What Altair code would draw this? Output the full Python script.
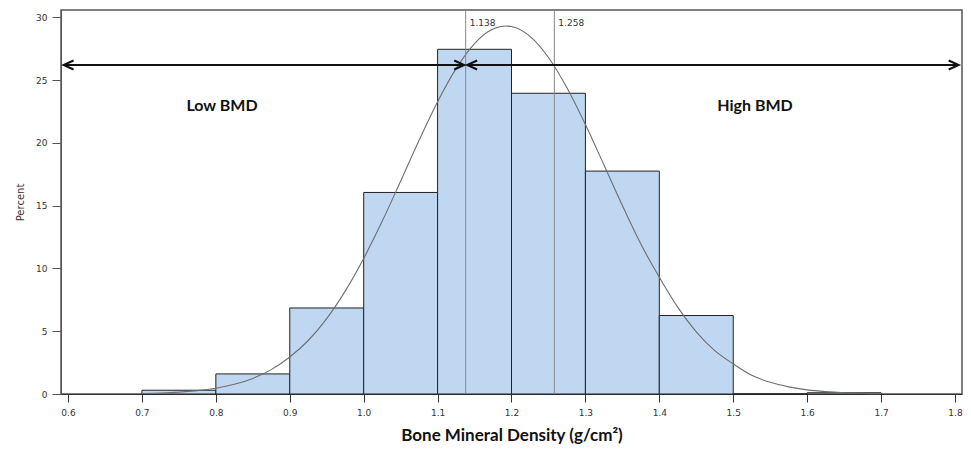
import altair as alt
import pandas as pd

# Histogram bins (lower edge, upper edge, percent)
bin_lo = [0.7, 0.8, 0.9, 1.0, 1.1, 1.2, 1.3, 1.4, 1.5, 1.6]
bin_hi = [0.8, 0.9, 1.0, 1.1, 1.2, 1.3, 1.4, 1.5, 1.6, 1.7]
pct = [0.3, 1.6, 6.85, 16.05, 27.45, 23.95, 17.75, 6.25, 0.0, 0.1]

# Fitted normal curve
curve_x = [0.70, 0.725, 0.75, 0.775, 0.80, 0.825, 0.85, 0.875, 0.90, 0.925, 0.95, 0.975,
           1.00, 1.025, 1.05, 1.075, 1.10, 1.125, 1.15, 1.175, 1.1925, 1.20, 1.225, 1.25,
           1.275, 1.30, 1.325, 1.35, 1.375, 1.40, 1.425, 1.45, 1.475, 1.50, 1.525, 1.55,
           1.575, 1.60, 1.625, 1.65, 1.675, 1.70]
curve_y = [0.04, 0.08, 0.15, 0.27, 0.46, 0.77, 1.24, 1.94, 2.95, 4.26, 6.0, 8.19,
           10.79, 13.75, 16.95, 20.2, 23.27, 25.91, 27.91, 29.06, 29.3, 29.26, 28.48, 26.8,
           24.39, 21.46, 18.25, 15.01, 11.94, 9.3, 6.9, 4.95, 3.45, 2.4, 1.49, 0.93,
           0.57, 0.33, 0.19, 0.1, 0.05, 0.03]

# Cut points
cuts = [1.138, 1.258]
cut_labels = ["1.138", "1.258"]

# Arrows
arrow_y = 26.2
arrow_start = [0.594, 1.140]
arrow_end = [1.136, 1.805]

# Group labels
group_labels = ["Low BMD", "High BMD"]
group_x = [0.8083, 1.5295]
group_y = [22.9, 22.9]

x_ticks = [0.6, 0.7, 0.8, 0.9, 1.0, 1.1, 1.2, 1.3, 1.4, 1.5, 1.6, 1.7, 1.8]
y_ticks = [0, 5, 10, 15, 20, 25, 30]

bars_df = pd.DataFrame({"lo": bin_lo, "hi": bin_hi, "pct": pct})
curve_df = pd.DataFrame({"x": curve_x, "y": curve_y})
cut_df = pd.DataFrame({"x": cuts, "label": cut_labels})
arrow_df = pd.DataFrame({"x": arrow_start, "x2": arrow_end, "y": [arrow_y, arrow_y]})
heads_df = pd.DataFrame({
    "x": [arrow_start[0], arrow_end[0], arrow_start[1], arrow_end[1]],
    "y": [arrow_y] * 4,
    "dir": ["L", "R", "L", "R"],
})
group_df = pd.DataFrame({"x": group_x, "y": group_y, "label": group_labels})

xscale = alt.Scale(domain=[0.5905, 1.8095], nice=False, zero=False)
yscale = alt.Scale(domain=[0, 30.58], nice=False)

xaxis = alt.Axis(values=x_ticks, format=".1f", title="Bone Mineral Density (g/cm²)",
                 grid=False, tickSize=8, labelFontSize=9, labelColor="#333",
                 labelFont="DejaVu Sans", labelPadding=6, domainColor="#333",
                 tickColor="#333", titleFont="Lato", titleFontSize=17,
                 titleFontWeight="bold", titleColor="#111", titleY=46,
                 titleBaseline="alphabetic", labelOverlap=False)
yaxis = alt.Axis(values=y_ticks, title="Percent", grid=False, tickSize=9,
                 labelFontSize=9, labelColor="#333", labelFont="DejaVu Sans",
                 labelPadding=5, domainColor="#555", tickColor="#555",
                 titleFont="DejaVu Sans", titleFontSize=10, titleFontWeight="normal",
                 titleColor="#333", titlePadding=10)

bars = alt.Chart(bars_df).mark_rect(fill="#c0d7f2", stroke="#222", strokeWidth=1).encode(
    x=alt.X("lo:Q", scale=xscale, axis=xaxis),
    x2="hi:Q",
    y=alt.Y("pct:Q", scale=yscale, axis=yaxis),
    y2=alt.datum(0),
)

curve = alt.Chart(curve_df).mark_line(color="#6e6e6e", strokeWidth=1.1, interpolate="monotone").encode(
    x=alt.X("x:Q", scale=xscale),
    y=alt.Y("y:Q", scale=yscale),
)

cut_rules = alt.Chart(cut_df).mark_rule(color="#888", strokeWidth=1).encode(
    x=alt.X("x:Q", scale=xscale),
)

cut_text = alt.Chart(cut_df).mark_text(align="left", baseline="middle", dx=4,
                                       fontSize=9, font="DejaVu Sans", color="#333").encode(
    x=alt.X("x:Q", scale=xscale),
    y=alt.value(13),
    text="label:N",
)

arrows = alt.Chart(arrow_df).mark_rule(color="#111", strokeWidth=2).encode(
    x=alt.X("x:Q", scale=xscale),
    x2="x2:Q",
    y=alt.Y("y:Q", scale=yscale),
)

right_head = "M -2 -0.9 L 0 0 L -2 0.9"
left_head = "M 2 -0.9 L 0 0 L 2 0.9"
heads_r = alt.Chart(heads_df).transform_filter(alt.datum.dir == "R").mark_point(
    shape=right_head, filled=False, stroke="#111", strokeWidth=2, size=100, opacity=1
).encode(x=alt.X("x:Q", scale=xscale), y=alt.Y("y:Q", scale=yscale))
heads_l = alt.Chart(heads_df).transform_filter(alt.datum.dir == "L").mark_point(
    shape=left_head, filled=False, stroke="#111", strokeWidth=2, size=100, opacity=1
).encode(x=alt.X("x:Q", scale=xscale), y=alt.Y("y:Q", scale=yscale))

groups = alt.Chart(group_df).mark_text(font="Lato", fontSize=16, fontWeight="bold",
                                       color="#111", baseline="middle").encode(
    x=alt.X("x:Q", scale=xscale),
    y=alt.Y("y:Q", scale=yscale),
    text="label:N",
)

chart = alt.layer(bars, curve, cut_rules, cut_text, arrows, heads_r, heads_l, groups).properties(
    width=901, height=384,
    background="white",
    autosize=alt.AutoSizeParams(type="none"),
    padding={"left": 53, "top": 2, "right": 1, "bottom": 50},
).configure_view(stroke="#555", strokeWidth=1.5)

chart.save("out.html", embed_options={"renderer": "svg", "actions": False})
